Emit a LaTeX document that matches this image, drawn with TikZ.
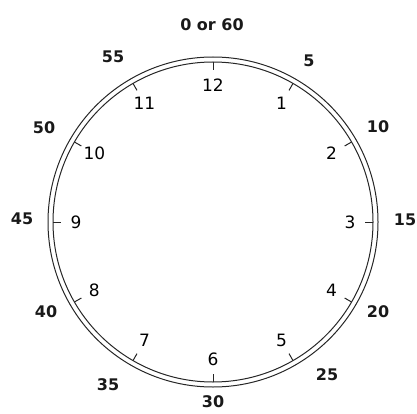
\documentclass[tikz,border=0pt]{standalone}
\usepackage{fontspec}
\usetikzlibrary{calc}
\setmainfont{DejaVu Sans}
\begin{document}
\begin{tikzpicture}[x=1pt,y=1pt,
  ring/.style={draw=black!85,line width=1pt},
  tick/.style={draw=black!85,line width=1pt},
  hournum/.style={font=\fontsize{17}{17}\selectfont, text=black, inner sep=0pt},
  minnum/.style={font=\bfseries\fontsize{16}{16}\selectfont, text=black!90, inner sep=0pt}]
\useasboundingbox (0,0) rectangle (417,413);
\coordinate (c) at (213,191);
\draw[ring] (c) circle[radius=165];
\draw[ring] (c) circle[radius=160];
% ticks and hour numbers
\foreach \h in {1,...,12}{
  \pgfmathsetmacro{\ang}{90-30*\h}
  \draw[tick] ($(c)+(\ang:160)$) -- ($(c)+(\ang:152)$);
  \node[hournum] (h\h) at ($(c)+(\ang:137)$) {\h};
}
% minute labels
\node[minnum] (m0)  at (212,388) {0 or 60};
\node[minnum] (m5)  at (309,352) {5};
\node[minnum] (m10) at (378,286) {10};
\node[minnum] (m15) at (405,193) {15};
\node[minnum] (m20) at (378,101) {20};
\node[minnum] (m25) at (327,38) {25};
\node[minnum] (m30) at (213,11) {30};
\node[minnum] (m35) at (108,28) {35};
\node[minnum] (m40) at (46,101) {40};
\node[minnum] (m45) at (22,194) {45};
\node[minnum] (m50) at (44,285) {50};
\node[minnum] (m55) at (113,356) {55};
\end{tikzpicture}
\end{document}
